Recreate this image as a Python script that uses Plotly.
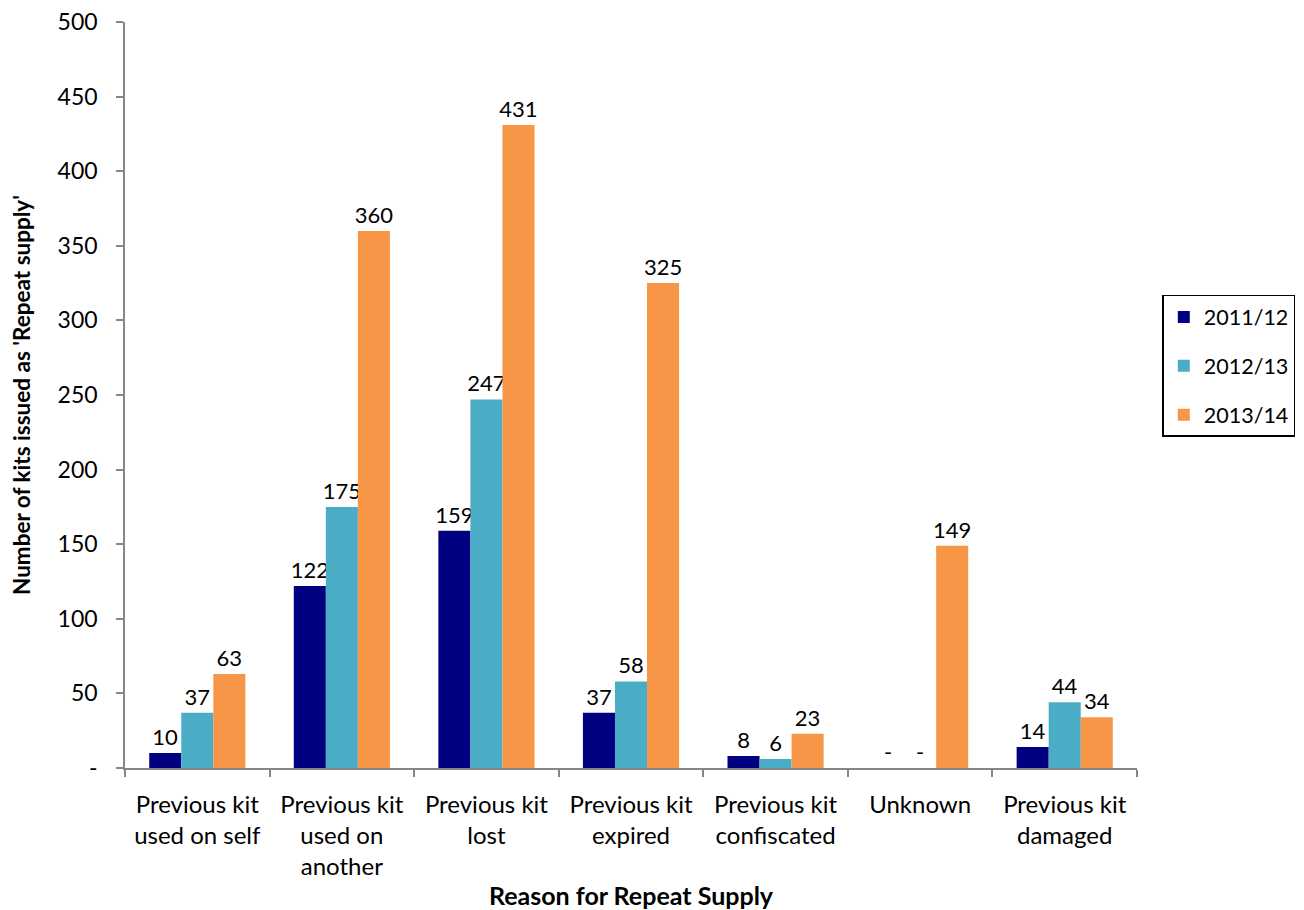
import plotly.graph_objects as go

categories = ["Previous kit<br>used on self", "Previous kit<br>used on<br>another", "Previous kit<br>lost",
              "Previous kit<br>expired", "Previous kit<br>confiscated", "Unknown", "Previous kit<br>damaged"]
series_names = ["2011/12", "2012/13", "2013/14"]
v2011 = [10, 122, 159, 37, 8, 0, 14]
v2012 = [37, 175, 247, 58, 6, 0, 44]
v2013 = [63, 360, 431, 325, 23, 149, 34]
colors = ["#000080", "#4BACC6", "#F79646"]
y_tickvals = [0, 50, 100, 150, 200, 250, 300, 350, 400, 450, 500]
y_ticktext = ["-", "50", "100", "150", "200", "250", "300", "350", "400", "450", "500"]

FONT = "Lato"

def labels(vals):
    return [("-" if v == 0 else str(v)) for v in vals]

fig = go.Figure()
for i, (name, vals) in enumerate(zip(series_names, [v2011, v2012, v2013])):
    fig.add_trace(go.Bar(
        x=categories, y=vals, name=name, marker=dict(color=colors[i], line=dict(width=0)),
        text=labels(vals), textposition="outside", cliponaxis=False, constraintext="none",
        textfont=dict(family=FONT, size=22, color="black"),
        legendgroup=name,
    ))

fig.update_layout(
    width=1296, height=902,
    paper_bgcolor="white", plot_bgcolor="white",
    margin=dict(l=117, r=167, t=14, b=142, autoexpand=False),
    barmode="group", bargap=0.335, bargroupgap=0,
    font=dict(family=FONT, size=22, color="black"),
    legend=dict(x=1.025, y=0.539, xanchor="left", yanchor="middle",
                bordercolor="black", borderwidth=1.5, font=dict(size=21.5, family=FONT),
                tracegroupgap=18, itemwidth=30),
    showlegend=True,
)
fig.update_yaxes(range=[0, 500], tickvals=y_tickvals, ticktext=y_ticktext,
                 showline=True, linecolor="#868686", linewidth=1.5,
                 ticks="outside", ticklen=7, tickcolor="#868686", tickwidth=1.5,
                 ticklabelstandoff=14, ticklabeloverflow="allow", automargin=False,
                 showgrid=False, zeroline=False,
                 tickfont=dict(size=23, family=FONT),
                 title=dict(text="<b>Number of kits issued as 'Repeat supply'</b>",
                            font=dict(size=22.5, family=FONT), standoff=26))
fig.update_xaxes(showline=True, linecolor="#868686", linewidth=1.5,
                 ticks="outside", ticklen=7, tickcolor="#868686", tickwidth=1.5,
                 tickson="boundaries", showgrid=False, ticklabelstandoff=14,
                 ticklabeloverflow="allow", automargin=False,
                 tickfont=dict(size=24, family=FONT),
                 title=dict(text="<b>Reason for Repeat Supply</b>",
                            font=dict(size=25, family=FONT), standoff=15))

fig.write_html("out.html")
